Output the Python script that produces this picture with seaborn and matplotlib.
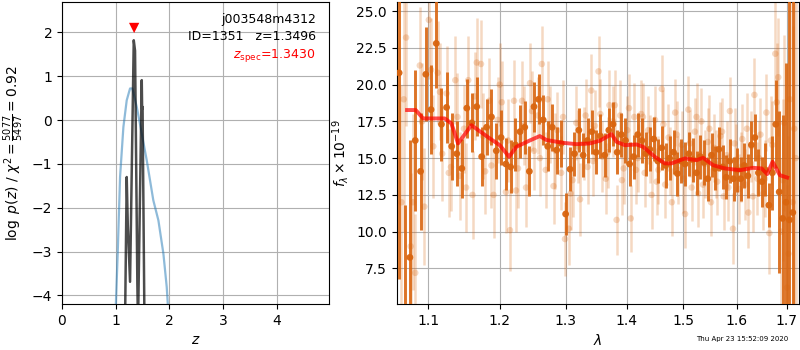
import matplotlib
matplotlib.use("Agg")
import matplotlib.pyplot as plt
import seaborn as sns
import numpy as np
from matplotlib.ticker import NullLocator, FixedLocator, FixedFormatter

# ---------------- data: left panel (redshift PDF) ----------------
z_blue = [0.99, 1.0, 1.037, 1.081, 1.143, 1.205, 1.267, 1.31, 1.392, 1.485,
          1.578, 1.70, 1.795, 1.888, 1.95, 1.99]
logp_blue = [-5.0, -4.3, -3.05, -1.30, -0.16, 0.45, 0.72, 0.72, 0.30, -0.31,
             -0.92, -1.83, -2.29, -3.05, -3.81, -4.6]

z_black = [1.15, 1.175, 1.205, 1.225, 1.267, 1.336, 1.36, 1.403, 1.415,
           1.485, 1.492, 1.50, 1.535, 1.56]
logp_black = [-6.0, -4.5, -1.30, -2.4, -3.69, 1.82, 1.58, -3.73, -4.7,
              0.91, 0.25, 0.3, -4.6, -6.5]

z_spec = 1.3430
z_spec_mark_y = 2.1

label_name = "j003548m4312"
label_id = "ID=1351   z=1.3496"
label_zspec = r"$z_\mathrm{spec}$=1.3430"

# ---------------- data: right panel (spectrum) ----------------
lam_light = [1.065, 1.071, 1.077, 1.083, 1.089, 1.095, 1.101, 1.107, 1.113, 1.119,
             1.125, 1.131, 1.137, 1.143, 1.149, 1.155, 1.161, 1.167, 1.173, 1.179,
             1.185, 1.191, 1.197, 1.203, 1.209, 1.215, 1.221, 1.227, 1.233, 1.239,
             1.245, 1.251, 1.257, 1.263, 1.269, 1.275, 1.281, 1.287, 1.293, 1.299,
             1.305, 1.311, 1.317, 1.323, 1.329, 1.335, 1.341, 1.347, 1.353, 1.359,
             1.365, 1.371, 1.377, 1.383, 1.389, 1.395, 1.401, 1.407, 1.413, 1.419,
             1.425, 1.431, 1.437, 1.443, 1.449, 1.455, 1.461, 1.467, 1.473, 1.479,
             1.485, 1.491, 1.497, 1.503, 1.509, 1.515, 1.521, 1.527, 1.533, 1.539,
             1.545, 1.551, 1.557, 1.563, 1.569, 1.575, 1.581, 1.587, 1.593, 1.599,
             1.605, 1.611, 1.617, 1.623, 1.629, 1.635, 1.641, 1.647, 1.653, 1.659,
             1.665, 1.671, 1.677, 1.683, 1.689, 1.695, 1.701, 1.707, 1.713, 1.719]
flux_light = [12.0, 23.2, 9.0, 7.2, 21.3, 11.7, 24.4, 15.8, 20.8, 15.3,
              19.4, 14.4, 20.3, 13.8, 17.0, 20.3, 12.5, 21.5, 21.4, 14.1,
              18.9, 12.5, 17.6, 18.8, 12.7, 10.1, 18.9, 14.3, 18.9, 13.0,
              20.1, 15.5, 17.9, 21.4, 14.2, 17.3, 13.1, 16.9, 14.0, 9.5,
              10.2, 13.5, 17.4, 12.2, 16.0, 14.4, 19.6, 17.2, 20.9, 15.1,
              13.6, 18.6, 17.5, 10.8, 17.9, 14.3, 16.9, 10.9, 17.8, 15.0,
              18.0, 14.0, 16.9, 12.5, 17.6, 14.2, 19.7, 13.2, 16.4, 12.0,
              18.1, 14.2, 15.9, 11.2, 18.3, 13.0, 16.8, 12.6, 17.5, 14.6,
              16.1, 12.0, 15.7, 13.4, 16.5, 12.4, 15.2, 18.2, 10.2, 14.9,
              12.9, 16.3, 13.2, 11.3, 15.8, 19.3, 13.6, 16.6, 12.6, 18.1,
              9.9, 15.9, 22.1, 20.5, 10.0, 17.4, 6.2, 19.0, 12.0, 15.0]
err_light = [8.0, 6.0, 5.0, 4.0, 4.0, 4.0, 4.0, 3.5, 3.5, 3.2,
             3.2, 3.0, 3.0, 3.0, 3.0, 3.0, 3.0, 3.0, 3.0, 2.9,
             2.9, 2.9, 2.9, 2.8, 2.8, 2.8, 2.8, 2.7, 2.7, 2.7,
             2.7, 2.7, 2.6, 2.6, 2.6, 2.6, 2.6, 2.6, 2.5, 2.5,
             2.5, 2.5, 2.5, 2.5, 2.5, 2.5, 2.5, 2.4, 2.4, 2.4,
             2.4, 2.4, 2.4, 2.4, 2.4, 2.4, 2.3, 2.3, 2.3, 2.3,
             2.3, 2.3, 2.3, 2.3, 2.3, 2.3, 2.3, 2.3, 2.3, 2.3,
             2.3, 2.3, 2.3, 2.3, 2.3, 2.3, 2.3, 2.3, 2.3, 2.3,
             2.3, 2.3, 2.3, 2.3, 2.3, 2.3, 2.3, 2.3, 2.4, 2.4,
             2.4, 2.4, 2.4, 2.4, 2.4, 2.5, 2.5, 2.5, 2.5, 2.6,
             2.8, 3.0, 3.5, 4.0, 5.0, 6.0, 7.0, 9.0, 12.0, 14.0]

lam_light2 = [1.068, 1.080, 1.092, 1.104, 1.116, 1.128, 1.140, 1.152, 1.164, 1.176,
              1.188, 1.200, 1.212, 1.224, 1.236, 1.248, 1.260, 1.272, 1.284, 1.296,
              1.308, 1.320, 1.332, 1.344, 1.356, 1.368, 1.380, 1.392, 1.404, 1.416,
              1.428, 1.440, 1.452, 1.464, 1.476, 1.488, 1.500, 1.512, 1.524, 1.536,
              1.548, 1.560, 1.572, 1.584, 1.596, 1.608, 1.620, 1.632, 1.644, 1.656,
              1.668, 1.680, 1.692, 1.704, 1.716]
flux_light2 = [19.0, 12.0, 17.5, 21.0, 19.5, 14.0, 17.8, 13.0, 19.2, 16.5,
               14.5, 20.0, 16.2, 12.8, 17.2, 18.2, 15.0, 19.0, 15.5, 17.8,
               12.6, 15.8, 17.9, 14.8, 18.0, 15.4, 18.6, 13.5, 18.4, 14.2,
               17.8, 15.6, 13.4, 17.3, 14.8, 16.6, 13.6, 16.0, 17.8, 13.2,
               17.0, 14.6, 16.8, 13.0, 16.0, 14.4, 17.0, 12.4, 15.0, 13.6,
               16.2, 18.8, 13.5, 8.5, 17.0]
err_light2 = [9.0, 6.0, 4.0, 3.5, 3.3, 3.0, 3.0, 3.0, 3.0, 2.9,
              2.9, 2.8, 2.8, 2.8, 2.7, 2.7, 2.6, 2.6, 2.6, 2.5,
              2.5, 2.5, 2.5, 2.4, 2.4, 2.4, 2.4, 2.4, 2.3, 2.3,
              2.3, 2.3, 2.3, 2.3, 2.3, 2.3, 2.3, 2.3, 2.3, 2.3,
              2.3, 2.3, 2.3, 2.3, 2.4, 2.4, 2.4, 2.4, 2.5, 2.6,
              3.0, 4.0, 5.5, 8.0, 12.0]

lam_dark = [1.062, 1.069, 1.076, 1.083, 1.090, 1.097, 1.104, 1.111, 1.118, 1.125,
            1.132, 1.139, 1.146, 1.153, 1.160, 1.167, 1.174, 1.181, 1.188, 1.195,
            1.202, 1.209, 1.216, 1.223, 1.230, 1.237, 1.244, 1.251, 1.258, 1.265,
            1.272, 1.279, 1.286, 1.293, 1.300, 1.307, 1.314, 1.321, 1.328, 1.335,
            1.342, 1.349, 1.356, 1.363, 1.370, 1.377, 1.384, 1.391, 1.398, 1.405,
            1.412, 1.419, 1.426, 1.433, 1.440, 1.447, 1.454, 1.461, 1.468, 1.475,
            1.482, 1.489, 1.496, 1.503, 1.510, 1.517, 1.524, 1.531, 1.538, 1.545,
            1.552, 1.559, 1.566, 1.573, 1.580, 1.587, 1.594, 1.601, 1.608, 1.615,
            1.622, 1.629, 1.636, 1.643, 1.650, 1.657, 1.664, 1.671, 1.678, 1.685,
            1.692, 1.699, 1.706, 1.713]
flux_dark = [20.8, 4.0, 8.25, 16.2, 14.1, 20.7, 18.3, 22.8, 17.3, 18.45,
             15.8, 15.3, 14.3, 18.4, 17.4, 18.5, 15.1, 17.1, 17.8, 15.5,
             16.4, 14.6, 14.4, 15.9, 16.8, 17.1, 14.1, 18.5, 19.0, 17.6,
             15.8, 17.1, 15.55, 16.0, 11.2, 14.25, 15.3, 16.9, 15.2, 16.2,
             16.8, 15.4, 16.5, 15.2, 16.9, 17.3, 15.4, 16.6, 16.2, 14.6,
             15.1, 16.6, 16.2, 15.3, 15.6, 16.3, 14.8, 15.7, 14.5, 15.0,
             15.4, 13.95, 14.8, 14.6, 15.3, 14.9, 14.0, 15.1, 14.7, 13.6,
             15.2, 14.3, 15.6, 14.4, 13.7, 14.8, 13.6, 14.2, 13.6, 14.5,
             13.8, 15.9, 16.4, 14.0, 13.4, 14.2, 11.8, 14.0, 17.3, 12.7,
             10.9, 12.0, 10.8, 11.3]
err_dark = [14.0, 7.8, 8.0, 4.8, 4.0, 3.2, 3.0, 3.0, 2.5, 2.4,
            2.3, 2.2, 2.0, 2.0, 2.0, 2.0, 2.0, 1.9, 1.9, 1.9,
            1.9, 1.8, 1.8, 1.8, 1.8, 1.8, 1.7, 1.7, 1.7, 1.7,
            1.7, 1.6, 1.6, 1.6, 1.4, 1.5, 1.5, 1.5, 1.5, 1.5,
            1.5, 1.5, 1.5, 1.5, 1.5, 1.5, 1.5, 1.5, 1.5, 1.5,
            1.5, 1.5, 1.5, 1.5, 1.5, 1.5, 1.5, 1.5, 1.5, 1.5,
            1.5, 1.5, 1.5, 1.5, 1.5, 1.5, 1.5, 1.5, 1.5, 1.5,
            1.5, 1.5, 1.5, 1.5, 1.5, 1.5, 1.5, 1.5, 1.5, 1.5,
            1.5, 1.6, 1.6, 1.6, 1.7, 1.8, 1.5, 2.5, 3.0, 5.5,
            7.0, 9.5, 16.0, 18.0]

lam_model = [1.0723, 1.0836, 1.0933, 1.1225, 1.1316, 1.1408, 1.1595, 1.1689,
             1.1856, 1.2001, 1.2137, 1.2246, 1.2446, 1.2598, 1.2701, 1.2960,
             1.3172, 1.3387, 1.3551, 1.3745, 1.3829, 1.3969, 1.4169, 1.4283,
             1.4487, 1.4664, 1.4784, 1.5024, 1.5240, 1.5363, 1.5550, 1.5773,
             1.6063, 1.6324, 1.6492, 1.6605, 1.6715, 1.6863, 1.7013]
flux_model = [18.27, 18.27, 17.70, 17.70, 17.36, 16.0, 17.24, 16.91,
              16.34, 15.88, 15.09, 15.77, 16.2, 16.5, 16.23, 16.04,
              15.95, 16.0, 16.18, 16.63, 16.11, 15.88, 15.93, 15.77,
              15.09, 14.64, 14.64, 14.98, 14.86, 15.02, 14.52, 14.30,
              14.18, 14.34, 14.30, 13.91, 14.75, 13.84, 13.68]

lam_ticks = [1.1, 1.2, 1.3, 1.4, 1.5, 1.6, 1.7]
lam_ticklabels = ["1.1", "1.2", "1.3", "1.4", "1.5", "1.6", "1.7"]
timestamp = "Thu Apr 23 15:52:09 2020"

# ---------------- figure ----------------
spec_color = "#d9650f"

fig = plt.figure(figsize=(8, 3.5), dpi=100)
ax1 = fig.add_axes([0.0775, 0.131, 0.334, 0.863])
ax2 = fig.add_axes([0.496, 0.131, 0.503, 0.863])

# left panel
sns.lineplot(x=z_blue, y=logp_blue, ax=ax1, color="#1f77b4", alpha=0.5,
             linewidth=1.6, estimator=None, sort=False)
sns.lineplot(x=z_black, y=logp_black, ax=ax1, color="k", alpha=0.7,
             linewidth=1.8, estimator=None, sort=False)
sns.scatterplot(x=[z_spec], y=[z_spec_mark_y], ax=ax1, marker="v", color="red",
                s=55, edgecolor="none", zorder=5)
ax1.set_xlim(0, 4.975)
ax1.set_ylim(-4.2, 2.69)
ax1.set_xticks([0, 1, 2, 3, 4])
ax1.set_yticks([-4, -3, -2, -1, 0, 1, 2])
ax1.grid(True, color="#b0b0b0", linewidth=0.8)
ax1.set_axisbelow(True)
ax1.set_xlabel(r"$z$")
ax1.set_ylabel(r"$\log\ p(z)$ / $\chi^2=\frac{5077}{5497}=0.92$")
ax1.text(0.95, 0.965, label_name + "\n" + label_id, transform=ax1.transAxes,
         ha="right", va="top", fontsize=9, color="k", linespacing=1.4)
ax1.text(0.95, 0.85, label_zspec, transform=ax1.transAxes,
         ha="right", va="top", fontsize=9, color="red")

# right panel
ax2.set_xscale("log")
ax2.errorbar(lam_light, flux_light, yerr=err_light, fmt="none",
             ecolor=spec_color, alpha=0.25, elinewidth=1.8, zorder=2)
ax2.errorbar(lam_light2, flux_light2, yerr=err_light2, fmt="none",
             ecolor=spec_color, alpha=0.25, elinewidth=1.8, zorder=2)
sns.scatterplot(x=lam_light + lam_light2, y=flux_light + flux_light2, ax=ax2,
                color=spec_color, alpha=0.25, s=22, edgecolor="none", zorder=2)
ax2.errorbar(lam_dark, flux_dark, yerr=err_dark, fmt="none",
             ecolor=spec_color, alpha=0.9, elinewidth=2.1, zorder=3)
sns.scatterplot(x=lam_dark, y=flux_dark, ax=ax2, color=spec_color,
                alpha=0.95, s=24, edgecolor="none", zorder=3)
sns.lineplot(x=lam_model, y=flux_model, ax=ax2, color="red", alpha=0.7,
             linewidth=2.8, estimator=None, sort=False, zorder=4)
ax2.set_xlim(1.059, 1.7264)
ax2.set_ylim(5.07, 25.61)
ax2.xaxis.set_major_locator(FixedLocator(lam_ticks))
ax2.xaxis.set_major_formatter(FixedFormatter(lam_ticklabels))
ax2.xaxis.set_minor_locator(NullLocator())
ax2.set_yticks([7.5, 10.0, 12.5, 15.0, 17.5, 20.0, 22.5, 25.0])
ax2.grid(True, color="#b0b0b0", linewidth=0.8)
ax2.set_axisbelow(True)
ax2.set_xlabel(r"$\lambda$")
ax2.set_ylabel(r"$f_\lambda \times 10^{-19}$")

fig.text(0.985, 0.022, timestamp, ha="right", va="bottom", fontsize=5)

fig.savefig("out.png", dpi=100)
